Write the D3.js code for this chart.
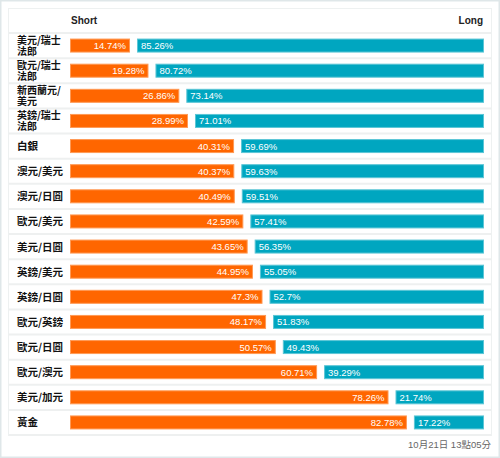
<!DOCTYPE html>
<html><head><meta charset="utf-8">
<script src="https://cdn.jsdelivr.net/npm/d3@7"></script>
<style>body{margin:0;background:#fff;}svg{display:block;font-family:"Liberation Sans",Arial,"Noto Sans CJK TC",sans-serif;}</style>
</head><body>
<script>
const categories = ["美元/瑞士法郎","歐元/瑞士法郎","新西蘭元/美元","英鎊/瑞士法郎","白銀","澳元/美元","澳元/日圓","歐元/美元","美元/日圓","英鎊/美元","英鎊/日圓","歐元/英鎊","歐元/日圓","歐元/澳元","美元/加元","黃金"];
const shortValues = [14.74,19.28,26.86,28.99,40.31,40.37,40.49,42.59,43.65,44.95,47.3,48.17,50.57,60.71,78.26,82.78];
const longValues = [85.26,80.72,73.14,71.01,59.69,59.63,59.51,57.41,56.35,55.05,52.7,51.83,49.43,39.29,21.74,17.22];
const headers = ["Short","Long"];
const footer = "10月21日 13點05分";

const W=500,H=458;
const svg=d3.select("body").append("svg").attr("width",W).attr("height",H);
svg.append("rect").attr("x",0.75).attr("y",0.75).attr("width",W-1.5).attr("height",H-1.5).attr("fill","#fff").attr("stroke","#dfe7e9").attr("stroke-width",1.5);
svg.append("rect").attr("x",8.5).attr("y",8.5).attr("width",483).attr("height",427).attr("fill","#fff").attr("stroke","#eef1f1").attr("stroke-width",1);

const x0=70,x1=484,gap=7;
const y=d3.scaleBand().domain(categories).range([33,435]).padding(0);
const xs=d3.scaleLinear().domain([0,100]).range([0,x1-x0-gap]);
const bh=14;

svg.append("text").attr("x",71).attr("y",24).attr("font-size",10).attr("font-weight","bold").attr("fill","#222").text(headers[0]);
svg.append("text").attr("x",483).attr("y",24).attr("text-anchor","end").attr("font-size",10).attr("font-weight","bold").attr("fill","#222").text(headers[1]);

const rows=svg.selectAll("g.row").data(categories).join("g").attr("class","row");
rows.append("line").attr("x1",9).attr("x2",491).attr("y1",d=>y(d)).attr("y2",d=>y(d)).attr("stroke","#eef0f0").attr("stroke-width",2);
svg.append("line").attr("x1",9).attr("x2",491).attr("y1",435).attr("y2",435).attr("stroke","#eef0f0").attr("stroke-width",2);

rows.each(function(d,i){
  const g=d3.select(this);
  const cy=y(d)+y.bandwidth()/2;
  const lab=g.append("g").attr("font-family","'Noto Sans CJK TC',sans-serif").attr("font-weight","bold").attr("fill","#111");
  if(d.length>5){
    lab.append("text").attr("x",17).attr("y",cy-1.5).attr("font-size",10).text(d.slice(0,5));
    lab.append("text").attr("x",17).attr("y",cy+9).attr("font-size",10).text(d.slice(5));
  } else {
    lab.append("text").attr("x",17).attr("y",cy+4).attr("font-size",10.5).text(d);
  }
  const sw=xs(shortValues[i]);
  g.append("rect").attr("x",x0+0.5).attr("y",cy-bh/2+0.5).attr("width",sw-1).attr("height",bh-1).attr("fill","#ff6600").attr("stroke","#ff9a55").attr("stroke-width",1);
  const lx=x0+sw+gap;
  g.append("rect").attr("x",lx+0.5).attr("y",cy-bh/2+0.5).attr("width",xs(longValues[i])-1).attr("height",bh-1).attr("fill","#00a6c0").attr("stroke","#5cc6d6").attr("stroke-width",1);
  g.append("text").attr("x",x0+sw-4).attr("y",cy+3.5).attr("text-anchor","end").attr("font-size",9.5).attr("fill","#fff").text(shortValues[i]+"%");
  g.append("text").attr("x",lx+4).attr("y",cy+3.5).attr("font-size",9.5).attr("fill","#fff").text(longValues[i]+"%");
});

svg.append("text").attr("x",491).attr("y",448).attr("text-anchor","end").attr("font-size",9.5).attr("fill","#666").text(footer);
</script>
</body></html>
